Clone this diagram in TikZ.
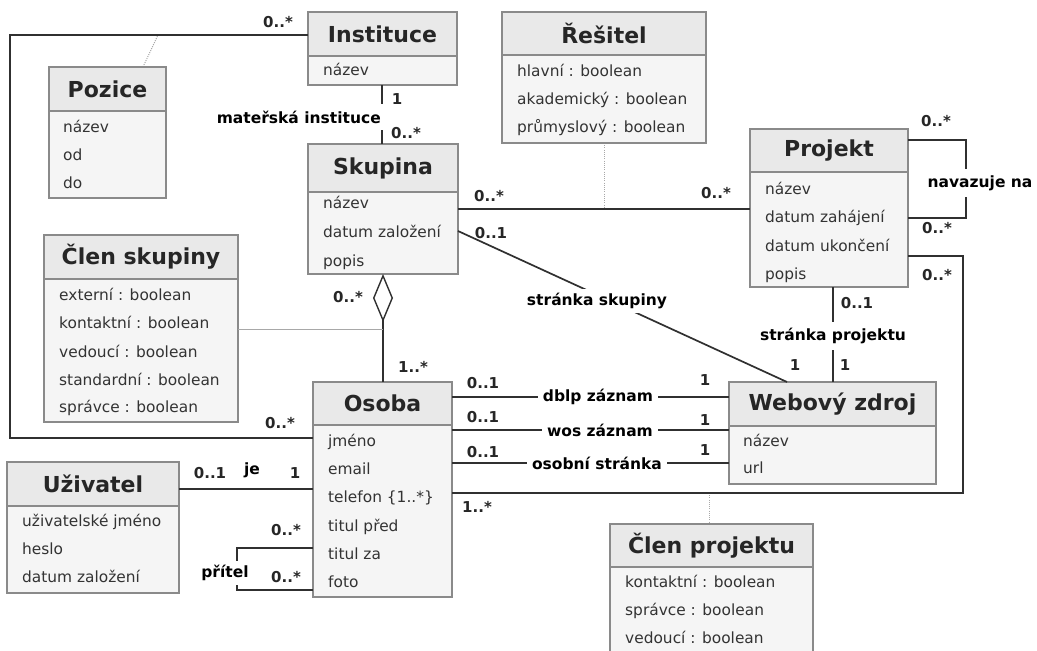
\documentclass[tikz,border=0pt]{standalone}
\usepackage{fontspec}
\setmainfont{DejaVu Sans}
\usetikzlibrary{arrows.meta}
\definecolor{headbg}{HTML}{E9E9E9}
\definecolor{bodybg}{HTML}{F5F5F5}
\definecolor{bordercol}{HTML}{8A8A8A}
\definecolor{linecol}{HTML}{303030}
\definecolor{assoccol}{HTML}{A8A8A8}
\tikzset{
  classbody/.style={fill=bodybg, inner sep=0pt, outer sep=0pt},
  boxline/.style={draw=bordercol, line width=1.2pt},
  classtitle/.style={font=\fontsize{22}{26}\selectfont\bfseries, text=black!85, inner sep=0pt},
  attrtext/.style={font=\fontsize{15.4}{18}\selectfont, text=black!80, inner sep=0pt, text height=11pt, text depth=3pt, anchor=west},
  mult/.style={font=\fontsize{15}{18}\selectfont\bfseries, text=black!85, inner sep=0pt},
  lbl/.style={font=\fontsize{15.5}{18}\selectfont\bfseries, fill=white, inner xsep=5pt, inner ysep=4pt, text=black},
  conn/.style={draw=linecol, line width=1.7pt},
  assoc/.style={draw=assoccol, line width=1pt},
  assocdot/.style={draw=assoccol, line width=1pt, dash pattern=on 1pt off 1.2pt},
}
\newcommand\umlclass[7]{%
  \node[classbody, minimum width={(#4-#2)*1pt}, minimum height={(#6-#3)*1pt}, anchor=north west] (#1) at (#2,#3) {};
  \fill[headbg] (#2,#3) rectangle (#4,#5);
  \draw[boxline] (#2,#5) -- (#4,#5);
  \draw[boxline] (#1.north west) rectangle (#1.south east);
  \node[classtitle] (#1-t) at ({(#2+#4)/2},{(#3+#5)/2}) {#7};
}
\begin{document}
\begin{tikzpicture}[x=1pt,y=-1pt]
\useasboundingbox (0,0) rectangle (1037,651);
\fill[white] (0,0) rectangle (1037,651);

% ---------- connectors (behind boxes) ----------
\coordinate (pzj) at (158,35);
\draw[assocdot] (143,67) -- (pzj);
\draw[assocdot] (604,143) -- (604,209);
\draw[assocdot] (709,493) -- (709,524);

% ---------- classes ----------
\umlclass{instituce}{308}{12}{457}{56}{85}{Instituce}
\node[attrtext] (in1) at (323,71) {název};

\umlclass{resitel}{502}{12}{706}{55}{143}{Řešitel}
\node[attrtext] (re1) at (517,72) {hlavní : boolean};
\node[attrtext] (re2) at (517,100) {akademický : boolean};
\node[attrtext] (re3) at (517,128) {průmyslový : boolean};

\umlclass{pozice}{49}{67}{166}{111}{198}{Pozice}
\node[attrtext] (pz1) at (63,128) {název};
\node[attrtext] (pz2) at (63,156) {od};
\node[attrtext] (pz3) at (63,184) {do};

\umlclass{skupina}{308}{144}{458}{192}{274}{Skupina}
\node[attrtext] (sk1) at (323,204) {název};
\node[attrtext] (sk2) at (323,233) {datum založení};
\node[attrtext] (sk3) at (323,262) {popis};

\umlclass{projekt}{750}{129}{908}{172}{287}{Projekt}
\node[attrtext] (pr1) at (765,190) {název};
\node[attrtext] (pr2) at (765,218) {datum zahájení};
\node[attrtext] (pr3) at (765,247) {datum ukončení};
\node[attrtext] (pr4) at (765,275) {popis};

\umlclass{clenskup}{44}{235}{238}{279}{422}{Člen skupiny}
\node[attrtext] (cs1) at (59,296) {externí : boolean};
\node[attrtext] (cs2) at (59,324) {kontaktní : boolean};
\node[attrtext] (cs3) at (59,353) {vedoucí : boolean};
\node[attrtext] (cs4) at (59,381) {standardní : boolean};
\node[attrtext] (cs5) at (59,408) {správce : boolean};

\umlclass{osoba}{313}{382}{452}{425}{597}{Osoba}
\node[attrtext] (os1) at (328,442) {jméno};
\node[attrtext] (os2) at (328,470) {email};
\node[attrtext] (os3) at (328,498) {telefon \{1..*\}};
\node[attrtext] (os4) at (328,527) {titul před};
\node[attrtext] (os5) at (328,555) {titul za};
\node[attrtext] (os6) at (328,583) {foto};

\umlclass{uzivatel}{7}{462}{179}{506}{593}{Uživatel}
\node[attrtext] (uz1) at (22,522) {uživatelské jméno};
\node[attrtext] (uz2) at (22,550) {heslo};
\node[attrtext] (uz3) at (22,578) {datum založení};

\umlclass{web}{729}{382}{936}{426}{484}{Webový zdroj}
\node[attrtext] (wz1) at (743,442) {název};
\node[attrtext] (wz2) at (743,469) {url};

\umlclass{clenproj}{610}{524}{813}{567}{662}{Člen projektu}
\node[attrtext] (cp1) at (625,583) {kontaktní : boolean};
\node[attrtext] (cp2) at (625,611) {správce : boolean};
\node[attrtext] (cp3) at (625,639) {vedoucí : boolean};

% ---------- associations ----------
\draw[conn] (instituce.west |- 0,35) -- (10,35) -- (10,438) -- (osoba.west |- 0,438);
\draw[conn] (instituce.south -| 382,0) -- (skupina.north -| 382,0);
\node[lbl, anchor=east, inner ysep=7pt] (lmi) at (386,117) {mateřská instituce};
\draw[conn] (skupina.east |- 0,209) -- (projekt.west |- 0,209);
\draw[conn] (skupina.east |- 0,231) -- (web.north -| 787,0);
\node[lbl] (lss) at (597,301) {stránka skupiny};
\draw[conn] (projekt.south -| 833,0) -- (web.north -| 833,0);
\node[lbl, inner ysep=6pt] (lsp) at (833,336) {stránka projektu};
\draw[conn] (projekt.east |- 0,140) -- (966,140) -- (966,218) -- (projekt.east |- 0,218);
\node[lbl, inner ysep=6pt] (lnav) at (980,183) {navazuje na};
\draw[conn] (projekt.east |- 0,256) -- (963,256) -- (963,493) -- (osoba.east |- 0,493);
\draw[conn, {Diamond[open, length=48pt, width=20pt, line width=1.4pt]}-] (skupina.south -| 383,0) -- (osoba.north -| 383,0);
\draw[assoc] (clenskup.east |- 0,329) -- (383,329);
\draw[conn] (osoba.east |- 0,397) -- (web.west |- 0,397);
\draw[conn] (osoba.east |- 0,430) -- (web.west |- 0,430);
\draw[conn] (osoba.east |- 0,463) -- (web.west |- 0,463);
\node[lbl] (ldb) at (598,397) {dblp záznam};
\node[lbl] (lwos) at (600,430) {wos záznam};
\node[lbl] (los) at (597,463) {osobní stránka};
\draw[conn] (uzivatel.east |- 0,489) -- (osoba.west |- 0,489);
\node[lbl, fill=none] (lje) at (252,470) {je};
\draw[conn] (osoba.west |- 0,548) -- (237,548) -- (237,590) -- (osoba.west |- 0,590);
\node[lbl] (lpr) at (225,573) {přítel};

% ---------- multiplicities ----------
\node[mult] (m1) at (278,22) {0..*};
\node[mult] (m2) at (280,423) {0..*};
\node[mult] (m3) at (397,99) {1};
\node[mult] (m4) at (406,133) {0..*};
\node[mult] (m5) at (489,196) {0..*};
\node[mult] (m6) at (716,193) {0..*};
\node[mult] (m7) at (491,233) {0..1};
\node[mult] (m8) at (795,365) {1};
\node[mult] (m9) at (857,303) {0..1};
\node[mult] (m10) at (845,365) {1};
\node[mult] (m11) at (936,121) {0..*};
\node[mult] (m12) at (937,228) {0..*};
\node[mult] (m13) at (937,275) {0..*};
\node[mult] (m14) at (477,507) {1..*};
\node[mult] (m15) at (348,297) {0..*};
\node[mult] (m16) at (413,367) {1..*};
\node[mult] (m17) at (483,383) {0..1};
\node[mult] (m18) at (483,417) {0..1};
\node[mult] (m19) at (483,452) {0..1};
\node[mult] (m20) at (705,380) {1};
\node[mult] (m21) at (705,420) {1};
\node[mult] (m22) at (705,450) {1};
\node[mult] (m23) at (210,473) {0..1};
\node[mult] (m24) at (295,473) {1};
\node[mult] (m25) at (286,530) {0..*};
\node[mult] (m26) at (286,577) {0..*};
\end{tikzpicture}
\end{document}
